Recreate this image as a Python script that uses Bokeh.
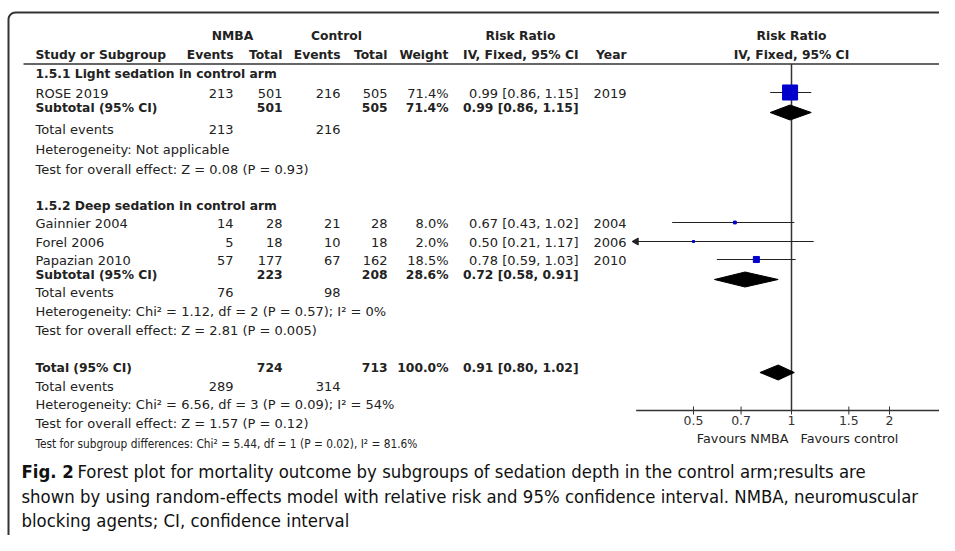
import math
from bokeh.plotting import figure
from bokeh.models import ColumnDataSource, Range1d, LogScale
from bokeh.core.properties import value
from bokeh.embed import file_html
from bokeh.resources import INLINE

# ---------------- data ----------------
group_titles = ["1.5.1 Light sedation in control arm", "1.5.2 Deep sedation in control arm"]
studies = ["ROSE 2019", "Gainnier 2004", "Forel 2006", "Papazian 2010"]
nmba_events = [213, 14, 5, 57]
nmba_total = [501, 28, 18, 177]
ctrl_events = [216, 21, 10, 67]
ctrl_total = [505, 28, 18, 162]
weight = [71.4, 8.0, 2.0, 18.5]
rr = [0.99, 0.67, 0.50, 0.78]
rr_lo = [0.86, 0.43, 0.21, 0.59]
rr_hi = [1.15, 1.02, 1.17, 1.03]
year = [2019, 2004, 2006, 2010]

sub_label = ["Subtotal (95% CI)", "Subtotal (95% CI)"]
sub_nmba_total = [501, 223]
sub_ctrl_total = [505, 208]
sub_nmba_events = [213, 76]
sub_ctrl_events = [216, 98]
sub_weight = [71.4, 28.6]
sub_rr = [0.99, 0.72]
sub_lo = [0.86, 0.58]
sub_hi = [1.15, 0.91]
sub_het = ["Heterogeneity: Not applicable",
           "Heterogeneity: Chi\u00b2 = 1.12, df = 2 (P = 0.57); I\u00b2 = 0%"]
sub_test = ["Test for overall effect: Z = 0.08 (P = 0.93)",
            "Test for overall effect: Z = 2.81 (P = 0.005)"]

tot_label = "Total (95% CI)"
tot_nmba_total = 724
tot_ctrl_total = 713
tot_nmba_events = 289
tot_ctrl_events = 314
tot_weight = 100.0
tot_rr, tot_lo, tot_hi = 0.91, 0.80, 1.02
tot_het = "Heterogeneity: Chi\u00b2 = 6.56, df = 3 (P = 0.09); I\u00b2 = 54%"
tot_test = "Test for overall effect: Z = 1.57 (P = 0.12)"
subgroup_test = "Test for subgroup differences: Chi\u00b2 = 5.44, df = 1 (P = 0.02), I\u00b2 = 81.6%"

axis_ticks = [0.5, 0.7, 1, 1.5, 2]
tick_labels = ["0.5", "0.7", "1", "1.5", "2"]
axis_limits = [1 / 3, 3]
favours = ["Favours NMBA", "Favours control"]

caption_bold = "Fig. 2"
caption_lines = [
    "Forest plot for mortality outcome by subgroups of sedation depth in the control arm;results are",
    "shown by using random-effects model with relative risk and 95% confidence interval. NMBA, neuromuscular",
    "blocking agents; CI, confidence interval",
]

# ---------------- layout (pixels) ----------------
W, H = 939, 535
LEFT = 35
COL_EV1, COL_TOT1, COL_EV2, COL_TOT2, COL_WT, COL_CI, COL_YR = 233, 282, 340, 387, 448, 578, 626
ROW_H1, ROW_H2, HDR_LINE = 35, 54, 63.5
ROW_G = [73, 205]
ROW_STUDY = [93, 223, 242, 260]
ROW_SUB = [107, 274]
ROW_TE = [129, 292]
ROW_HET = [149, 311]
ROW_TEST = [169, 330]
ROW_TOT, ROW_TTE, ROW_THET, ROW_TTEST, ROW_SG = 367, 386, 404, 423, 443
ROW_CAP = [471, 496, 520]
AXIS_Y = 410
ONE_PX = 791          # x pixel of RR = 1
PX_PER_LN = 141.4     # pixels per unit of ln(RR)

FONT = value("DejaVu Sans")
FS = "13px"
FSB = "12.3px"
CAPFONT = value("DejaVu Sans Condensed")
DARK = "#222222"
BLUE = "#0000CC"

rr_start = math.exp((0 - ONE_PX) / PX_PER_LN)
rr_end = math.exp((W - ONE_PX) / PX_PER_LN)

p = figure(width=W, height=H, output_backend="svg", toolbar_location=None,
           x_range=Range1d(0, W), y_range=Range1d(H, 0),
           x_axis_location=None, y_axis_location=None, min_border=0)
p.outline_line_color = None
p.xgrid.visible = False
p.ygrid.visible = False
p.extra_x_ranges = {"rr": Range1d(rr_start, rr_end)}
p.extra_x_scales = {"rr": LogScale()}


def txt(xs, ys, texts, align="left", bold=False, size=None, font=FONT, color=DARK, **kw):
    src = ColumnDataSource(dict(x=list(xs), y=list(ys), t=list(texts)))
    p.text(x="x", y="y", text="t", source=src, text_align=align, text_baseline="middle",
           text_font=font, text_font_size=size or (FSB if bold else FS),
           text_font_style="bold" if bold else "normal", text_color=color, **kw)


# ---------------- frame ----------------
r = 7
corner = [(8 + r - r * math.cos(a * math.pi / 16), 12 + r - r * math.sin(a * math.pi / 16)) for a in range(0, 9)]
fx = [8] + [c[0] for c in corner] + [W + 10]
fy = [H + 10] + [c[1] for c in corner] + [12]
p.line(fx, fy, line_color="#333333", line_width=2)
p.segment(x0=[23], y0=[HDR_LINE], x1=[W + 10], y1=[HDR_LINE], line_color="#333333", line_width=1.5)

# ---------------- headers ----------------
txt([232, 336], [ROW_H1] * 2, ["NMBA", "Control"], align="center", bold=True)
txt([520], [ROW_H1], ["Risk Ratio"], align="center", bold=True)
txt([LEFT], [ROW_H2], ["Study or Subgroup"], bold=True)
txt([COL_EV1, COL_TOT1, COL_EV2, COL_TOT2, COL_WT, COL_CI, COL_YR], [ROW_H2] * 7,
    ["Events", "Total", "Events", "Total", "Weight", "IV, Fixed, 95% CI", "Year"], align="right", bold=True)
txt([1, 1], [ROW_H1, ROW_H2], ["Risk Ratio", "IV, Fixed, 95% CI"], align="center", bold=True, x_range_name="rr")

# ---------------- group titles ----------------
txt([LEFT] * 2, ROW_G, group_titles, bold=True)

# ---------------- study rows ----------------
txt([LEFT] * 4, ROW_STUDY, studies)
txt([COL_EV1] * 4, ROW_STUDY, [str(v) for v in nmba_events], align="right")
txt([COL_TOT1] * 4, ROW_STUDY, [str(v) for v in nmba_total], align="right")
txt([COL_EV2] * 4, ROW_STUDY, [str(v) for v in ctrl_events], align="right")
txt([COL_TOT2] * 4, ROW_STUDY, [str(v) for v in ctrl_total], align="right")
txt([COL_WT] * 4, ROW_STUDY, ["%.1f%%" % v for v in weight], align="right")
txt([COL_CI] * 4, ROW_STUDY, ["%.2f [%.2f, %.2f]" % t for t in zip(rr, rr_lo, rr_hi)], align="right")
txt([COL_YR] * 4, ROW_STUDY, [str(v) for v in year], align="right")

# ---------------- subtotal rows ----------------
txt([LEFT] * 2, ROW_SUB, sub_label, bold=True)
txt([COL_TOT1] * 2, ROW_SUB, [str(v) for v in sub_nmba_total], align="right", bold=True)
txt([COL_TOT2] * 2, ROW_SUB, [str(v) for v in sub_ctrl_total], align="right", bold=True)
txt([COL_WT] * 2, ROW_SUB, ["%.1f%%" % v for v in sub_weight], align="right", bold=True)
txt([COL_CI] * 2, ROW_SUB, ["%.2f [%.2f, %.2f]" % t for t in zip(sub_rr, sub_lo, sub_hi)], align="right", bold=True)
txt([LEFT] * 2, ROW_TE, ["Total events"] * 2)
txt([COL_EV1] * 2, ROW_TE, [str(v) for v in sub_nmba_events], align="right")
txt([COL_EV2] * 2, ROW_TE, [str(v) for v in sub_ctrl_events], align="right")
txt([LEFT] * 2, ROW_HET, sub_het)
txt([LEFT] * 2, ROW_TEST, sub_test)

# ---------------- overall ----------------
txt([LEFT], [ROW_TOT], [tot_label], bold=True)
txt([COL_TOT1, COL_TOT2, COL_WT, COL_CI], [ROW_TOT] * 4,
    [str(tot_nmba_total), str(tot_ctrl_total), "%.1f%%" % tot_weight,
     "%.2f [%.2f, %.2f]" % (tot_rr, tot_lo, tot_hi)], align="right", bold=True)
txt([LEFT], [ROW_TTE], ["Total events"])
txt([COL_EV1, COL_EV2], [ROW_TTE] * 2, [str(tot_nmba_events), str(tot_ctrl_events)], align="right")
txt([LEFT, LEFT], [ROW_THET, ROW_TTEST], [tot_het, tot_test])
txt([LEFT], [ROW_SG], [subgroup_test], font=CAPFONT, size="11.8px")

# ---------------- forest plot ----------------
p.segment(x0=[1], y0=[HDR_LINE], x1=[1], y1=[AXIS_Y], x_range_name="rr",
          line_color="#333333", line_width=1.5)
mk_y = [y - 1 for y in ROW_STUDY]
ci_x0 = [max(v, axis_limits[0]) for v in rr_lo]
ci_x1 = [min(v, axis_limits[1]) for v in rr_hi]
p.segment(x0=ci_x0, y0=mk_y, x1=ci_x1, y1=mk_y, x_range_name="rr", line_color=DARK, line_width=1.2)
arrow_i = [i for i, v in enumerate(rr_lo) if v < axis_limits[0]]
p.scatter(x=[axis_limits[0]] * len(arrow_i), y=[mk_y[i] for i in arrow_i], marker="triangle",
          angle=math.pi / 2, size=7, color=DARK, x_range_name="rr")
sizes = [max(2.0, 2.17 * math.sqrt(w) - 3.3) for w in weight]
p.scatter(x=rr, y=mk_y, size=sizes, marker="square", color=BLUE, x_range_name="rr")

d_y = [y + 5 for y in ROW_SUB] + [ROW_TOT + 5]
d_lo = sub_lo + [tot_lo]
d_est = sub_rr + [tot_rr]
d_hi = sub_hi + [tot_hi]
hh = 7.5
p.patches(xs=[[a, b, c, b] for a, b, c in zip(d_lo, d_est, d_hi)],
          ys=[[y, y - hh, y, y + hh] for y in d_y], x_range_name="rr",
          fill_color="black", line_color="black")

# axis
p.segment(x0=[axis_limits[0]], y0=[AXIS_Y], x1=[axis_limits[1]], y1=[AXIS_Y], x_range_name="rr",
          line_color="#333333", line_width=1.5)
p.segment(x0=axis_ticks, y0=[AXIS_Y - 4] * 5, x1=axis_ticks, y1=[AXIS_Y + 4] * 5, x_range_name="rr",
          line_color="#333333", line_width=1)
txt(axis_ticks, [AXIS_Y + 10] * 5, tick_labels, align="center", x_range_name="rr", size="12.5px", color="#333333")
txt([788], [AXIS_Y + 28], [favours[0]], align="right", size="12.8px")
txt([800], [AXIS_Y + 28], [favours[1]], align="left", size="12.8px")

# ---------------- caption ----------------
txt([21], [ROW_CAP[0]], [caption_bold], bold=True, font=CAPFONT, size="18.4px", color="#111111")
txt([77, 21, 21], ROW_CAP, caption_lines, font=CAPFONT, size="18.4px", color="#111111")

open("out.html", "w").write(file_html(p, INLINE))
